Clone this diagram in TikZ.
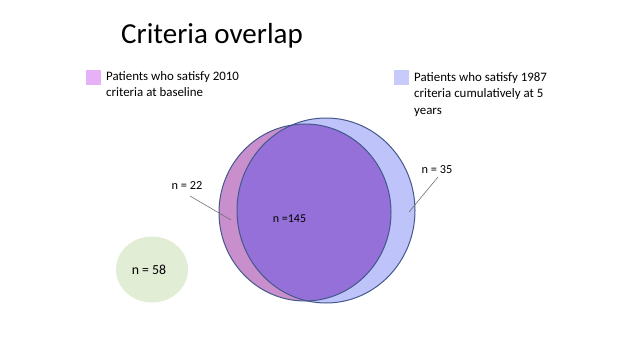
\documentclass[tikz,border=0pt]{standalone}
\usepackage{fontspec}
\setmainfont{Carlito}
\usepackage{xcolor}
\usepackage{tikz}
\usetikzlibrary{positioning}

\definecolor{pinkonly}{HTML}{C98FCC}
\definecolor{blueonly}{HTML}{BEC3F9}
\definecolor{overlapc}{HTML}{9470D8}
\definecolor{rimc}{HTML}{43598C}
\definecolor{greenc}{HTML}{E2EDD6}
\definecolor{keypink}{HTML}{E6B1F6}
\definecolor{keyblue}{HTML}{C6CBF9}
\definecolor{leadc}{HTML}{707070}

\tikzset{
  keybox/.style={minimum size=15pt, inner sep=0pt},
  keytext/.style={anchor=north west, align=left, font=\fontsize{12.9}{16.8}\selectfont, inner sep=0pt},
  count/.style={font=\fontsize{12.3}{14}\selectfont, inner sep=1pt},
  leader/.style={draw=leadc, line width=0.6pt}
}

\begin{document}
\begin{tikzpicture}[x=1pt, y=-1pt]
\useasboundingbox (0, 0) rectangle (642, 361);

\node[anchor=west, inner sep=0pt, font=\fontsize{29}{32}\selectfont] (title) at (121, 36) {Criteria overlap};

% key
\node[keybox, fill=keypink] (keyA) at (93.5, 77.5) {};
\node[keytext] (textA) at (106, 71) {Patients who satisfy 2010\\criteria at baseline};
\node[keybox, fill=keyblue] (keyB) at (401.5, 77.5) {};
\node[keytext] (textB) at (414, 72) {Patients who satisfy 1987\\criteria cumulatively at 5\\years};

% circles
\fill[blueonly] (326, 210.5) ellipse (89 and 92.5);
\fill[pinkonly] (305, 212.5) ellipse (86 and 88.5);
\begin{scope}
  \clip (326, 210.5) ellipse (89 and 92.5);
  \fill[overlapc] (305, 212.5) ellipse (86 and 88.5);
\end{scope}
\draw[rimc, line width=1pt] (326, 210.5) ellipse (89 and 92.5);
\draw[rimc, line width=1pt] (305, 212.5) ellipse (86 and 88.5);

\fill[greenc] (152, 269.5) ellipse (36 and 33);

% counts
\node[count] (nA) at (187, 186) {n = 22};
\node[count] (nB) at (437, 170) {n = 35};
\node[count, font=\fontsize{12}{14}\selectfont] (nAB) at (289.5, 219) {n =145};
\node[count, font=\fontsize{13.8}{16}\selectfont] (nC) at (149, 270) {n = 58};

\coordinate (startA) at (190, 196);
\coordinate (tipA) at (231, 220);
\coordinate (startB) at (438, 177);
\coordinate (tipB) at (409, 212);
\draw[leader] (startA) -- (tipA);
\draw[leader] (startB) -- (tipB);
\end{tikzpicture}
\end{document}
